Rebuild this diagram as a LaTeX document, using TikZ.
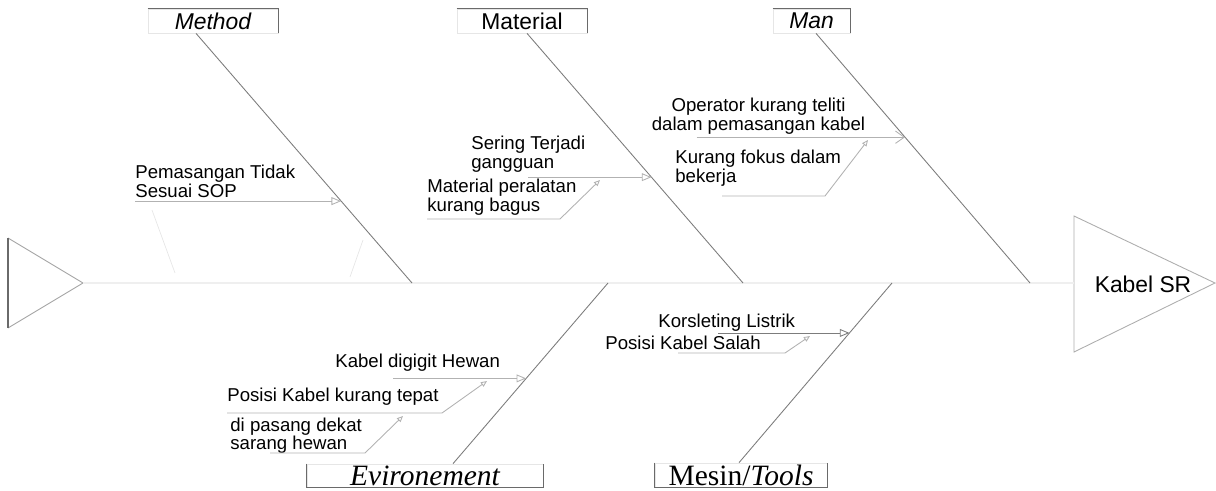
\documentclass[tikz,border=0pt]{standalone}
\usepackage{fontspec}
\setmainfont{Liberation Sans}
\newfontfamily\timesfont{Liberation Serif}
\usepackage{tikz}
\usetikzlibrary{positioning, arrows.meta, calc}
\definecolor{Bone}{HTML}{7C7C7C}
\definecolor{Rib}{HTML}{B2B2B2}
\definecolor{Spine}{HTML}{EFEFEF}
\definecolor{Edge}{HTML}{6A6A6A}
\definecolor{Faint}{HTML}{E6E6E6}

\begin{document}
\begin{tikzpicture}[x=0.02cm, y=-0.02cm,
    catbox/.style={draw=Faint, line width=0.4pt, minimum height=0.48cm, inner sep=0pt, font=\fontsize{13}{15}\selectfont},
    serifbox/.style={catbox, font=\timesfont\fontsize{16.8}{18}\selectfont},
    cause/.style={align=left, inner sep=0pt, anchor=west, font=\fontsize{10.6}{10.6}\selectfont},
    bone/.style={draw=Bone, line width=0.5pt},
    rib/.style={draw=Rib, line width=0.5pt, -{Triangle[open, length=5.5pt, width=4.5pt]}},
    twig/.style={draw=Rib, line width=0.5pt, -{Triangle[open, length=3.5pt, width=3pt]}},
    every node/.style={text=black}
]
\useasboundingbox (0,0) rectangle (1216,490);

% Tail and head
\draw[Edge!60, line width=0.5pt] (8,238) -- (83,283) -- (8,328);
\draw[Edge, line width=0.6pt] (8,238) -- (8,328);
\coordinate (tail) at (83,283);
\node[font=\fontsize{13}{15}\selectfont, inner sep=0pt] (effect) at (1143,284) {Kabel SR};
\draw[Edge!55, line width=0.5pt] (1074,216) -- (1215,283) -- (1074,352) -- cycle;
\coordinate (head) at (1074,283);
\draw[Spine, line width=0.6pt] (tail) -- (head);

% Category boxes
\node[catbox, minimum width=2.6cm] (method) at (213,21) {\itshape Method};
\node[catbox, minimum width=2.6cm] (material) at (522,21) {Material};
\node[catbox, minimum width=1.54cm] (man) at (811.5,21) {\itshape Man};
\node[serifbox, minimum width=4.72cm, minimum height=0.46cm] (envir) at (425,475.5) {\itshape Evironement};
\node[serifbox, minimum width=3.44cm] (mesin) at (741,475) {Mesin/\textit{Tools}};
\foreach \b in {method, material, man}
    \draw[Edge, line width=0.7pt] (\b.north west) -- (\b.north east) -- (\b.south east);
\foreach \b in {envir, mesin}
    \draw[Edge, line width=0.7pt] (\b.north west) -- (\b.south west) -- (\b.south east) -- (\b.north east);

% Bones
\coordinate (sp1) at (412,283);
\coordinate (sp2) at (743,283);
\coordinate (sp3) at (1030,283);
\coordinate (sp4) at (608,283);
\coordinate (sp5) at (892,283);
\coordinate (mt) at ($(method.south)+(-17,0)$);
\coordinate (ma) at ($(material.south)+(5,0)$);
\coordinate (mn) at ($(man.south)+(4.5,0)$);
\coordinate (et) at ($(envir.north)+(28,0)$);
\coordinate (ms) at ($(mesin.north)+(-2,0)$);
\draw[bone] (mt) -- (sp1);
\draw[bone] (ma) -- (sp2);
\draw[bone] (mn) -- (sp3);
\draw[bone] (sp4) -- (et);
\draw[bone] (sp5) -- (ms);

% Method
\node[cause] (sop) at (135,181.5) {Pemasangan Tidak\\Sesuai SOP};
\coordinate (r1) at ($(mt)!0.672!(sp1)$);
\draw[rib] (sop.south west |- r1) -- (r1);
\draw[Faint, line width=0.4pt] (152,210) -- (175,273);
\draw[Faint, line width=0.4pt] (363,240) -- (350,277);

% Material
\node[cause] (ganggu) at (471,154) {Sering Terjadi\\gangguan};
\coordinate (r2) at ($(ma)!0.576!(sp2)$);
\draw[rib] (ganggu.south |- r2) -- (r2);
\node[cause] (alat) at (427,197) {Material peralatan\\kurang bagus};
\coordinate (k2) at (560,219);
\coordinate (t2) at (600,180);
\draw[twig] (alat.west |- k2) -- (k2) -- (t2);

% Man
\node[cause, align=center, anchor=center] (teliti) at (758.5,116) {Operator kurang teliti\\dalam pemasangan kabel};
\coordinate (r3) at ($(mn)!0.416!(sp3)$);
\coordinate (s3) at ($(teliti.south west)+(45,0)$);
\draw[draw=Rib, line width=0.5pt, -{Straight Barb[length=5pt, width=7pt]}] (s3 |- r3) -- (r3);
\node[cause] (fokus) at (675,168) {Kurang fokus dalam\\bekerja};
\coordinate (s3b) at ($(fokus.south west)+(47,0)$);
\coordinate (k3) at (825,196);
\coordinate (t3) at (868,140);
\draw[twig] (s3b |- k3) -- (k3) -- (t3);

% Evironement
\coordinate (r4) at ($(sp4)!0.528!(et)$);
\node[cause] (gigit) at (335,363) {Kabel digigit Hewan};
\coordinate (s4) at ($(gigit.south west)+(58,0)$);
\draw[rib] (s4 |- r4) -- (r4);
\node[cause] (tepat) at (227,397) {Posisi Kabel kurang tepat};
\coordinate (k4) at (442,413);
\coordinate (t4) at (487,381);
\draw[twig] (tepat.west |- k4) -- (k4) -- (t4);
\node[cause] (sarang) at (230,435.5) {di pasang dekat\\sarang hewan};
\coordinate (s5) at ($(sarang.south west)+(40,0)$);
\coordinate (k5) at (365,453);
\coordinate (t5) at (403,416);
\draw[twig] (s5 |- k5) -- (k5) -- (t5);

% Mesin/Tools
\coordinate (r5) at ($(sp5)!0.278!(ms)$);
\node[cause] (listrik) at (658,323) {Korsleting Listrik};
\coordinate (s6) at ($(listrik.south west)+(60,0)$);
\draw[rib, draw=Bone] (s6 |- r5) -- (r5);
\node[cause] (salah) at (605,343) {Posisi Kabel Salah};
\coordinate (s7) at ($(salah.south west)+(73,0)$);
\coordinate (k6) at (785,353);
\coordinate (t6) at (810,336);
\draw[twig] (s7 |- k6) -- (k6) -- (t6);

\end{tikzpicture}
\end{document}
